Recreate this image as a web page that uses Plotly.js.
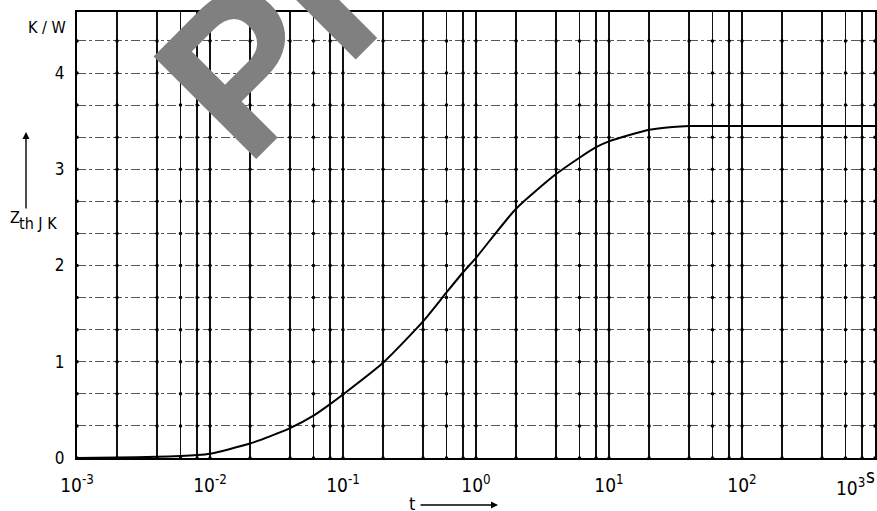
<!DOCTYPE html>
<html>
<head>
<meta charset="utf-8">
<script src="https://cdn.plot.ly/plotly-3.0.1.min.js"></script>
<style>html,body{margin:0;padding:0;background:#fff}#chart{width:877px;height:511px}</style>
</head>
<body>
<div id="chart"></div>
<script>
// Curve data (t in s, Zth in K/W)
var timeS = [0.001,0.002,0.004,0.006,0.008,0.01,0.02,0.04,0.06,0.08,0.1,0.2,0.4,0.6,0.8,1,2,4,6,8,10,20,30,40,60,100,1000];
var zthJK = [0.0,0.005,0.012,0.02,0.03,0.045,0.15,0.31,0.44,0.56,0.66,0.99,1.42,1.72,1.93,2.08,2.59,2.95,3.12,3.23,3.29,3.41,3.44,3.45,3.45,3.45,3.45];

// Grid / tick definitions
var xGridVals = [0.001,0.002,0.004,0.006,0.008,0.01,0.02,0.04,0.06,0.08,0.1,0.2,0.4,0.6,0.8,1,2,4,6,8,10,20,40,60,80,100,200,400,600,800,1000];
var xDecades = [0.001,0.01,0.1,1,10,100];
var xDecadeLabels = ["10<sup>-3</sup>","10<sup>-2</sup>","10<sup>-1</sup>","10<sup>0</sup>","10<sup>1</sup>","10<sup>2</sup>"];
var yGridVals = [0,0.333,0.667,1,1.333,1.667,2,2.333,2.667,3,3.333,3.667,4,4.333];
var yLabelVals = [0,1,2,3,4];
var yLabels = ["0","1","2","3","4"];

var FONT = "Liberation Sans Narrow, Arial Narrow, DejaVu Sans Condensed, Liberation Sans, sans-serif";

var xText = xGridVals.map(function(v){
  var i = xDecades.indexOf(v);
  return i >= 0 ? xDecadeLabels[i] : "";
});
var yText = yGridVals.map(function(v){
  var i = yLabelVals.indexOf(v);
  return i >= 0 ? yLabels[i] : "";
});

// grid intersection dots (derived from grid arrays)
var dotX = [], dotY = [];
xGridVals.forEach(function(xv){ yGridVals.forEach(function(yv){ dotX.push(xv); dotY.push(yv); }); });

var traces = [
  {x: dotX, y: dotY, type: "scatter", mode: "markers", marker: {size: 3.5, color: "#000"}, hoverinfo: "skip", showlegend: false},
  {x: timeS, y: zthJK, type: "scatter", mode: "lines", line: {color: "#000", width: 2, shape: "spline", smoothing: 0.6}, showlegend: false}
];

var layout = {
  width: 877, height: 511,
  margin: {l: 77, r: 2, t: 12, b: 53},
  paper_bgcolor: "#fff", plot_bgcolor: "#fff",
  showlegend: false,
  font: {family: FONT, color: "#000", size: 16},
  xaxis: {
    type: "log", range: [-3, 3],
    tickmode: "array", tickvals: xGridVals, ticktext: xText, tickangle: 0,
    ticks: "", showgrid: true, gridcolor: "#111", gridwidth: 1.3,
    showline: true, linecolor: "#000", linewidth: 2, mirror: true,
    tickfont: {family: FONT, size: 19, color: "#000"},
    ticklabelstandoff: 9, automargin: false, zeroline: false
  },
  yaxis: {
    range: [0, 4.634],
    tickmode: "array", tickvals: yGridVals, ticktext: yText,
    ticks: "", showgrid: true, gridcolor: "#555", gridwidth: 1, griddash: "dashdot",
    showline: true, linecolor: "#000", linewidth: 2, mirror: true,
    tickfont: {family: FONT, size: 17, color: "#000"},
    ticklabelstandoff: 7, automargin: false, zeroline: false
  },
  annotations: [
    {xref: "paper", yref: "paper", x: 0.277, y: 0.995, xanchor: "center", yanchor: "middle",
     text: "PR", showarrow: false, textangle: -45,
     font: {family: "Liberation Sans, Arial, sans-serif", size: 211, color: "#808080", weight: "bold"}},
    {xref: "paper", yref: "paper", x: -0.0113, y: 1.0, xanchor: "right", yanchor: "top", yshift: -4,
     text: "K / W", showarrow: false, font: {family: FONT, size: 16}},
    {xref: "x", yref: "paper", x: 3, y: 0, xanchor: "right", yanchor: "top", xshift: -8, yshift: -15,
     text: "10<sup>3</sup>", showarrow: false, font: {family: FONT, size: 19}},
    {xref: "paper", yref: "paper", x: 1.0025, y: 0, xanchor: "right", yanchor: "top", yshift: -5,
     text: "s", showarrow: false, font: {family: FONT, size: 19}},
    {xref: "paper", yref: "paper", x: -0.0865, y: 0.5392, xanchor: "left", yanchor: "middle",
     text: "Z", showarrow: false, font: {family: FONT, size: 16}},
    {xref: "paper", yref: "paper", x: -0.0752, y: 0.5247, xanchor: "left", yanchor: "middle",
     text: "th J K", showarrow: false, font: {family: FONT, size: 16}},
    {xref: "paper", yref: "paper", x: -0.0639, y: 0.731, ax: 0, ay: 78, axref: "pixel", ayref: "pixel",
     text: "", showarrow: true, arrowhead: 2, arrowsize: 1, arrowwidth: 1.4, arrowcolor: "#000"},
    {xref: "paper", yref: "paper", x: 0.4198, y: -0.103, xanchor: "center", yanchor: "middle",
     text: "t", showarrow: false, font: {family: FONT, size: 18}},
    {xref: "paper", yref: "paper", x: 0.5276, y: -0.1054, ax: -79, ay: 0, axref: "pixel", ayref: "pixel",
     text: "", showarrow: true, arrowhead: 2, arrowsize: 1, arrowwidth: 1.4, arrowcolor: "#000"}
  ]
};

Plotly.newPlot("chart", traces, layout, {displayModeBar: false, staticPlot: true});
</script>
</body>
</html>
